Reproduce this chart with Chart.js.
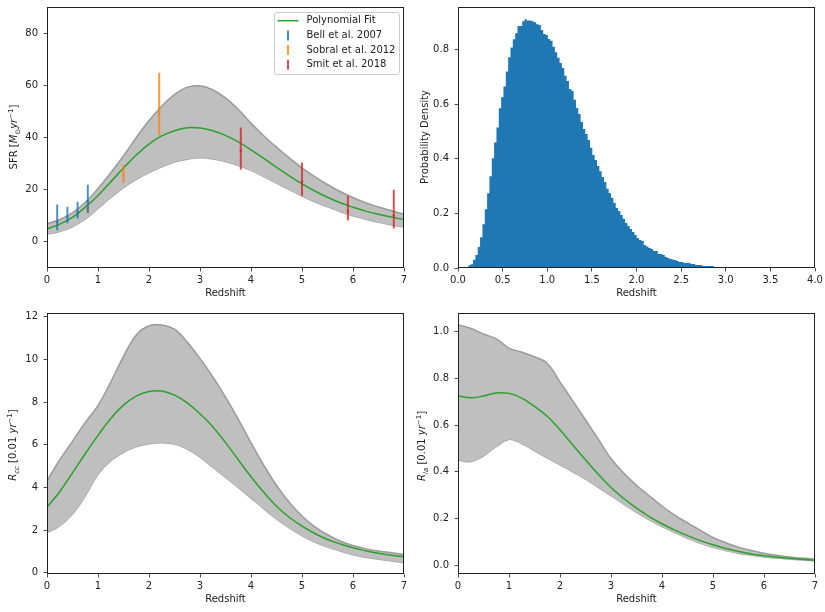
<!DOCTYPE html>
<html lang="en">
<head>
  <meta charset="UTF-8" />
  <title>Star formation and supernova rates vs redshift</title>
  <script src="https://cdn.jsdelivr.net/npm/chart.js"></script>
  <style>
    body { margin: 0; background: #fff; }
    #fig { position: relative; width: 825px; height: 612px; font-family: "DejaVu Sans", sans-serif; }
    #fig canvas { position: absolute; }
    .ylab { position: absolute; font-size: 10px; color: #222; white-space: nowrap; line-height: 12px;
            transform: translate(-50%, -50%) rotate(-90deg); }
    .ylab sub, .ylab sup { font-size: 7px; line-height: 0; }
  </style>
</head>
<body>
  <div id="fig">
    <canvas id="sfrChart" width="412" height="306" style="left:0;top:0"></canvas>
    <canvas id="histChart" width="413" height="306" style="left:412px;top:0"></canvas>
    <canvas id="ccChart" width="412" height="306" style="left:0;top:306px"></canvas>
    <canvas id="iaChart" width="413" height="306" style="left:412px;top:306px"></canvas>

    <div class="ylab" style="left:13.7px;top:137px">SFR [<i>M</i><sub>⊙</sub><i>yr</i><sup>−1</sup>]</div>
    <div class="ylab" style="left:424.8px;top:137px">Probability Density</div>
    <div class="ylab" style="left:13.3px;top:445px"><i>R</i><sub><i>cc</i></sub> [0.01 <i>yr</i><sup>−1</sup>]</div>
    <div class="ylab" style="left:422px;top:446px"><i>R</i><sub><i>Ia</i></sub> [0.01 <i>yr</i><sup>−1</sup>]</div>
  </div>

  <script>
    // ---- data ----
    const zGrid = [0, 0.25, 0.5, 0.75, 1, 1.25, 1.5, 1.75, 2, 2.25, 2.5, 2.75, 3, 3.25, 3.5, 3.75,
                   4, 4.25, 4.5, 4.75, 5, 5.25, 5.5, 5.75, 6, 6.25, 6.5, 6.75, 7];

    // SFR panel
    const sfrFit = [5.0, 6.8, 9.4, 13.3, 17.8, 23.0, 28.3, 33.3, 37.5, 40.6, 42.6, 43.7, 43.6, 42.6, 40.8, 38.3,
                    35.3, 32.0, 28.6, 25.3, 22.2, 19.5, 17.1, 15.0, 13.3, 11.8, 10.6, 9.5, 8.6];
    const sfrHi = [7.0, 8.6, 11.2, 15.2, 20.5, 26.5, 33.0, 40.0, 46.5, 52.0, 56.5, 59.3, 59.8, 58.3, 55.2, 50.8,
                   45.5, 40.7, 36.3, 32.2, 28.4, 25.0, 22.0, 19.3, 17.0, 15.0, 13.4, 12.0, 10.6];
    const sfrLo = [3.0, 4.0, 5.8, 8.7, 12.8, 17.0, 20.8, 24.0, 26.6, 28.8, 30.6, 31.7, 32.2, 31.8, 30.8, 29.3,
                   27.4, 25.0, 22.5, 20.0, 17.6, 15.4, 13.4, 11.6, 10.0, 8.7, 7.5, 6.5, 5.7];

    const bellZ = [0.2, 0.4, 0.6, 0.8];
    const bellSfr = [7.6, 9.5, 11.3, 15.6];
    const bellLo = [4.5, 7.1, 9.0, 11.1];
    const bellHi = [14.3, 13.5, 15.4, 21.9];

    const sobralZ = [0.8, 1.5, 2.2];
    const sobralSfr = [12.6, 25.6, 51.2];
    const sobralLo = [11.1, 22.7, 40.9];
    const sobralHi = [14.6, 29.4, 64.8];

    const smitZ = [3.8, 5.0, 5.9, 6.8];
    const smitSfr = [34.9, 23.1, 11.8, 10.1];
    const smitLo = [27.6, 17.7, 8.2, 5.1];
    const smitHi = [43.8, 30.4, 17.7, 20.0];

    const legendLabels = ["Polynomial Fit", "Bell et al. 2007", "Sobral et al. 2012", "Smit et al. 2018"];

    // redshift histogram (density per bin)
    const histStart = 0.064;
    const histBinWidth = 0.0262;
    const histDensity = [
      0.004, 0.004, 0.010, 0.014, 0.030, 0.048, 0.077, 0.113, 0.160, 0.215, 0.274, 0.336, 0.402, 0.460, 0.515, 0.585,
      0.625, 0.665, 0.720, 0.772, 0.808, 0.838, 0.860, 0.886, 0.886, 0.904, 0.911, 0.907, 0.907, 0.904, 0.900, 0.893,
      0.890, 0.872, 0.857, 0.853, 0.839, 0.832, 0.810, 0.790, 0.770, 0.751, 0.733, 0.704, 0.685, 0.656, 0.649, 0.616,
      0.586, 0.564, 0.535, 0.509, 0.491, 0.469, 0.440, 0.414, 0.396, 0.374, 0.354, 0.333, 0.315, 0.290, 0.275, 0.257,
      0.238, 0.220, 0.209, 0.194, 0.180, 0.165, 0.154, 0.143, 0.132, 0.121, 0.110, 0.103, 0.099, 0.084, 0.079, 0.073,
      0.070, 0.062, 0.062, 0.051, 0.051, 0.048, 0.040, 0.037, 0.033, 0.031, 0.029, 0.026, 0.022, 0.022, 0.018, 0.018,
      0.018, 0.015, 0.015, 0.011, 0.011, 0.011, 0.007, 0.007, 0.007, 0.007, 0.007, 0.003, 0.003, 0.003, 0.003, 0.003,
      0.003, 0.003, 0.003, 0.003, 0.003, 0.003, 0.003, 0.003
    ];

    // core-collapse rate
    const rccFit = [3.07, 3.8, 4.68, 5.58, 6.44, 7.23, 7.86, 8.28, 8.5, 8.52, 8.33, 7.97, 7.45, 6.85, 6.1, 5.3,
                    4.5, 3.77, 3.12, 2.6, 2.18, 1.84, 1.56, 1.35, 1.17, 1.03, 0.91, 0.82, 0.75];
    const rccHi = [4.32, 5.3, 6.17, 7.05, 7.85, 8.95, 10.15, 11.15, 11.58, 11.62, 11.42, 10.82, 10.05, 9.2, 8.25, 7.2,
                   6.1, 5.05, 4.1, 3.3, 2.66, 2.16, 1.78, 1.49, 1.28, 1.13, 1.02, 0.94, 0.86];
    const rccLo = [1.88, 2.2, 2.75, 3.6, 4.62, 5.25, 5.65, 5.9, 6.05, 6.1, 6.03, 5.8, 5.42, 4.95, 4.48, 4.0,
                   3.5, 3.0, 2.52, 2.1, 1.74, 1.44, 1.2, 1.02, 0.84, 0.72, 0.63, 0.55, 0.47];

    // type Ia rate
    const riaFit = [0.725, 0.717, 0.725, 0.738, 0.736, 0.716, 0.68, 0.638, 0.58, 0.515, 0.452, 0.39, 0.333, 0.286, 0.245, 0.209,
                    0.178, 0.151, 0.127, 0.106, 0.088, 0.072, 0.059, 0.049, 0.041, 0.035, 0.030, 0.026, 0.022];
    const riaHi = [1.03, 1.015, 0.99, 0.97, 0.93, 0.913, 0.893, 0.865, 0.785, 0.705, 0.623, 0.541, 0.457, 0.395, 0.343, 0.298,
                   0.254, 0.215, 0.182, 0.151, 0.12, 0.097, 0.078, 0.064, 0.052, 0.043, 0.036, 0.031, 0.027];
    const riaLo = [0.451, 0.444, 0.468, 0.508, 0.539, 0.521, 0.49, 0.46, 0.43, 0.40, 0.369, 0.334, 0.298, 0.262, 0.227, 0.195,
                   0.166, 0.14, 0.116, 0.094, 0.077, 0.063, 0.051, 0.043, 0.036, 0.031, 0.027, 0.023, 0.02];

    // tick values
    const zTicks = [0, 1, 2, 3, 4, 5, 6, 7];
    const sfrTicks = [0, 20, 40, 60, 80];
    const histXTicks = [0, 0.5, 1, 1.5, 2, 2.5, 3, 3.5, 4];
    const histYTicks = [0, 0.2, 0.4, 0.6, 0.8];
    const rccTicks = [0, 2, 4, 6, 8, 10, 12];
    const riaTicks = [0, 0.2, 0.4, 0.6, 0.8, 1.0];

    // ---- styling ----
    const INK = "#222";
    const GREEN = "#2ca02c";
    const BAND_FILL = "#bfbfbf";
    const BAND_EDGE = "rgba(128,128,128,0.7)";
    const ERR = { bell: "rgba(31,119,180,0.8)", sobral: "rgba(255,127,14,0.8)", smit: "rgba(214,39,40,0.8)" };

    Chart.defaults.font.family = '"DejaVu Sans", sans-serif';
    Chart.defaults.font.size = 10;
    Chart.defaults.color = INK;

    const pts = (xs, ys) => xs.map((x, i) => ({ x: x, y: ys[i] }));

    function errorSegments(zs, lo, hi) {
      const out = [];
      zs.forEach((z, i) => { out.push({ x: z, y: lo[i] }, { x: z, y: hi[i] }, { x: z, y: null }); });
      return out;
    }

    function axis(o) {
      return {
        type: "linear",
        min: o.min,
        max: o.max,
        afterBuildTicks: s => { s.ticks = o.ticks.map(v => ({ value: v })); },
        afterFit: s => {
          if (o.width) s.width = o.width;
          if (o.height) s.height = o.height;
          s.paddingTop = s.paddingBottom = s.paddingLeft = s.paddingRight = 0;
        },
        grid: { drawOnChartArea: false, drawTicks: true, tickLength: 3.5, color: INK, lineWidth: 0.8 },
        border: { display: false },
        ticks: { color: INK, padding: o.pad, autoSkip: false, maxRotation: 0,
                 callback: v => o.fmt ? o.fmt(v) : String(v) },
        title: o.title ? { display: true, text: o.title, color: INK, font: { size: 10 }, padding: { top: 0, bottom: 7 } }
                       : { display: false }
      };
    }

    const framePlugin = {
      id: "frame",
      afterDraw(chart) {
        const { ctx, chartArea: a } = chart;
        ctx.save();
        ctx.strokeStyle = INK;
        ctx.lineWidth = 1;
        ctx.strokeRect(Math.round(a.left) + 0.5, Math.round(a.top) + 0.5,
                       Math.round(a.right - a.left) - 1, Math.round(a.bottom - a.top) - 1);
        ctx.restore();
      }
    };

    const legendPlugin = {
      id: "boxLegend",
      afterDraw(chart) {
        const { ctx, chartArea: a } = chart;
        const x0 = a.right - 129.5, y0 = a.top + 5.5, w = 125, h = 62;
        ctx.save();
        ctx.fillStyle = "rgba(255,255,255,0.8)";
        ctx.strokeStyle = "#ccc";
        ctx.lineWidth = 1;
        ctx.beginPath();
        ctx.roundRect(x0, y0, w, h, 2.5);
        ctx.fill();
        ctx.stroke();
        const colors = [GREEN, ERR.bell, ERR.sobral, ERR.smit];
        ctx.font = '10px "DejaVu Sans", sans-serif';
        ctx.textBaseline = "middle";
        legendLabels.forEach((txt, i) => {
          const cy = y0 + 8.2 + i * 14.7;
          ctx.strokeStyle = colors[i];
          ctx.beginPath();
          if (i === 0) {
            ctx.lineWidth = 1.5;
            ctx.moveTo(x0 + 3, cy); ctx.lineTo(x0 + 24, cy);
          } else {
            ctx.lineWidth = 2;
            ctx.moveTo(x0 + 13.5, cy - 5); ctx.lineTo(x0 + 13.5, cy + 5);
          }
          ctx.stroke();
          ctx.fillStyle = INK;
          ctx.fillText(txt, x0 + 32, cy);
        });
        ctx.restore();
      }
    };

    function bandDatasets(fit, hi, lo) {
      return [
        { label: "fit", data: pts(zGrid, fit), borderColor: GREEN, borderWidth: 1.5, pointRadius: 0,
          tension: 0.4, fill: false, order: 1 },
        { label: "upper", data: pts(zGrid, hi), borderColor: BAND_EDGE, borderWidth: 1.5, pointRadius: 0,
          tension: 0.4, backgroundColor: BAND_FILL, fill: "+1", order: 2 },
        { label: "lower", data: pts(zGrid, lo), borderColor: BAND_EDGE, borderWidth: 1.5, pointRadius: 0,
          tension: 0.4, fill: false, order: 3 }
      ];
    }

    function baseOptions(xAxis, yAxis, right) {
      return {
        responsive: false,
        animation: false,
        events: [],
        layout: { padding: { top: 7, right: right, bottom: 0, left: 0 } },
        plugins: { legend: { display: false }, tooltip: { enabled: false } },
        scales: { x: xAxis, y: yAxis }
      };
    }

    // ---- SFR panel ----
    const errLine = (data, color) => ({ data: data, borderColor: color, borderWidth: 2, pointRadius: 0,
                                        spanGaps: false, fill: false, borderCapStyle: "butt", order: 0 });
    const centers = (zs, ys, color) => ({ type: "scatter", data: pts(zs, ys), showLine: false,
                                          pointRadius: 1.3, pointBorderWidth: 0, backgroundColor: color, order: 0 });

    new Chart(document.getElementById("sfrChart"), {
      type: "line",
      data: {
        datasets: [
          errLine(errorSegments(bellZ, bellLo, bellHi), ERR.bell),
          errLine(errorSegments(sobralZ, sobralLo, sobralHi), ERR.sobral),
          errLine(errorSegments(smitZ, smitLo, smitHi), ERR.smit),
          centers(bellZ, bellSfr, ERR.bell),
          centers(sobralZ, sobralSfr, ERR.sobral),
          centers(smitZ, smitSfr, ERR.smit),
          ...bandDatasets(sfrFit, sfrHi, sfrLo)
        ]
      },
      options: baseOptions(
        axis({ min: 0, max: 7, ticks: zTicks, height: 38, pad: 3, title: "Redshift" }),
        axis({ min: -10, max: 90, ticks: sfrTicks, width: 47, pad: 5.5 }),
        8),
      plugins: [framePlugin, legendPlugin]
    });

    // ---- redshift histogram ----
    const histPoints = histDensity.map((d, i) => ({ x: histStart + i * histBinWidth, y: d }));
    histPoints.push({ x: histStart + histDensity.length * histBinWidth, y: 0 });

    new Chart(document.getElementById("histChart"), {
      type: "line",
      data: {
        datasets: [{
          data: histPoints, stepped: true, fill: "origin", backgroundColor: "#1f77b4",
          borderColor: "rgba(0,0,0,0)", borderWidth: 0, pointRadius: 0
        }]
      },
      options: baseOptions(
        axis({ min: 0, max: 4, ticks: histXTicks, height: 38, pad: 3, title: "Redshift", fmt: v => v.toFixed(1) }),
        axis({ min: 0, max: 0.956, ticks: histYTicks, width: 46, pad: 5.5, fmt: v => v.toFixed(1) }),
        10),
      plugins: [framePlugin]
    });

    // ---- core-collapse rate ----
    new Chart(document.getElementById("ccChart"), {
      type: "line",
      data: { datasets: bandDatasets(rccFit, rccHi, rccLo) },
      options: baseOptions(
        axis({ min: 0, max: 7, ticks: zTicks, height: 38, pad: 3, title: "Redshift" }),
        axis({ min: -0.06, max: 12.18, ticks: rccTicks, width: 47, pad: 5.5 }),
        8),
      plugins: [framePlugin]
    });

    // ---- type Ia rate ----
    new Chart(document.getElementById("iaChart"), {
      type: "line",
      data: { datasets: bandDatasets(riaFit, riaHi, riaLo) },
      options: baseOptions(
        axis({ min: 0, max: 7, ticks: zTicks, height: 38, pad: 3, title: "Redshift" }),
        axis({ min: -0.037, max: 1.08, ticks: riaTicks, width: 46, pad: 5.5, fmt: v => v.toFixed(1) }),
        10),
      plugins: [framePlugin]
    });
  </script>
</body>
</html>
